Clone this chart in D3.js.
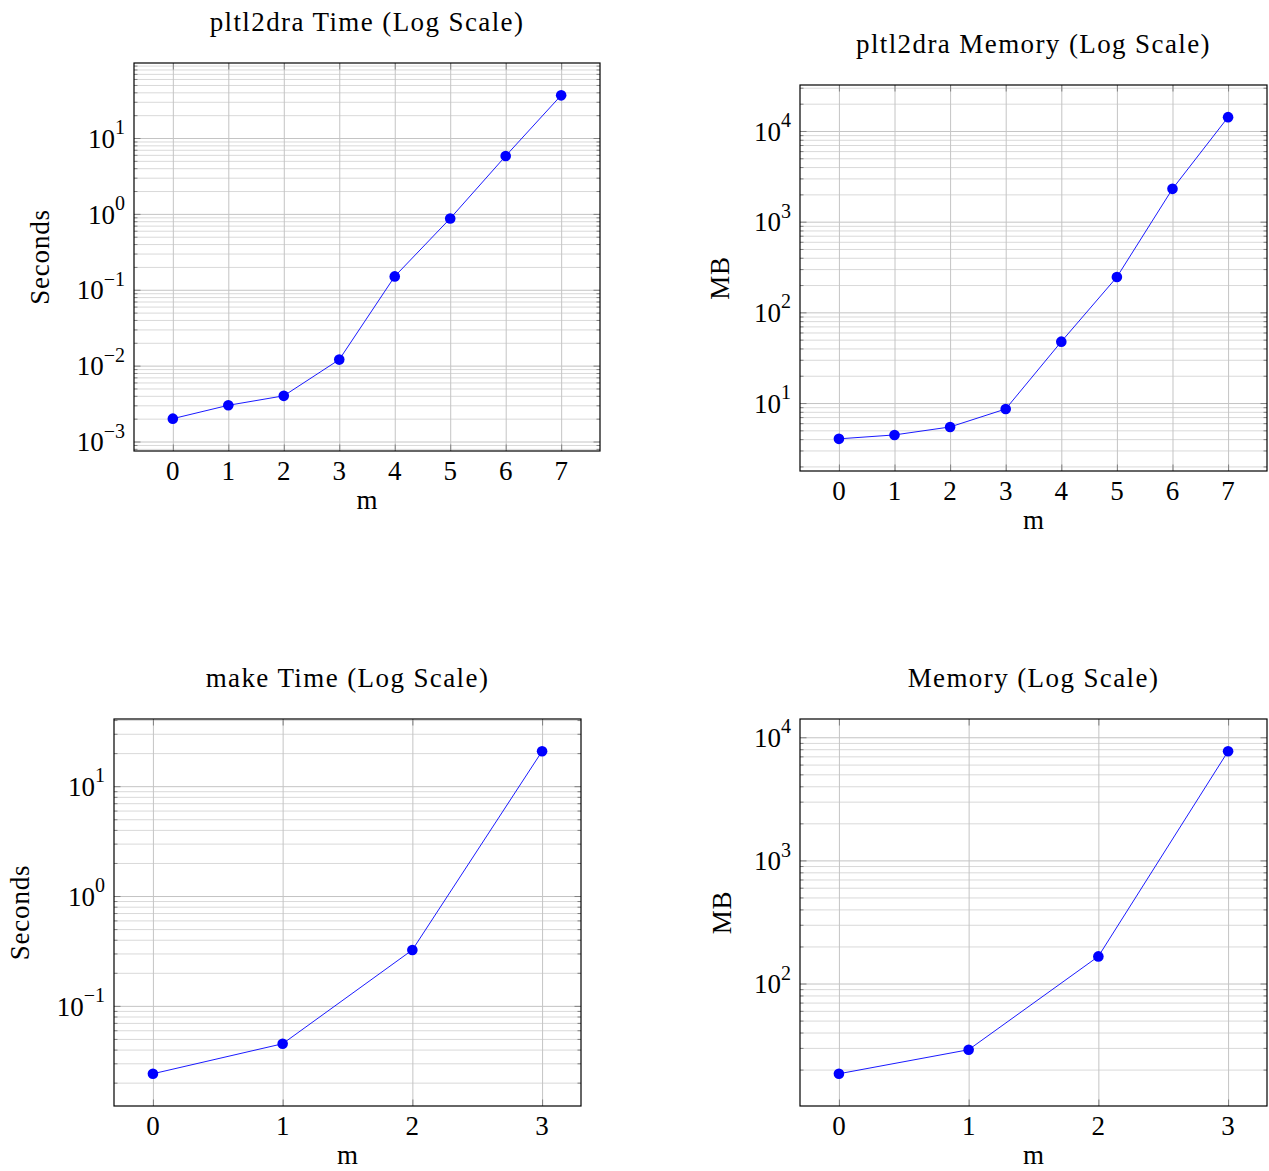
<!DOCTYPE html>
<html>
<head>
<meta charset="utf-8">
<script src="https://cdn.jsdelivr.net/npm/d3@7"></script>
<style>
  body { margin: 0; background: #fff; }
  text { font-family: "Liberation Serif", "DejaVu Serif", serif; fill: #000; }
</style>
</head>
<body>
<div id="chart"></div>
<script>
const W = 1269, H = 1171,
  fontSize = 27,
  titleSize = 27,
  supSize = 20,
  lineColor = "#0000ff",
  majorGrid = "#c4c4c4",
  minorGrid = "#d9d9d9",
  tickColor = "#808080"

// values
const mSteps8 = [0, 1, 2, 3, 4, 5, 6, 7]
const mSteps4 = [0, 1, 2, 3]
const pltlTime = [0.002, 0.003, 0.004, 0.012, 0.15, 0.87, 5.8, 36.5]
const pltlMemory = [4.03, 4.45, 5.45, 8.6, 47.5, 245, 2300, 14200]
const makeTime = [0.0241, 0.0452, 0.323, 20.8]
const makeMemory = [18.5, 29, 166, 7700]

const titles = ["pltl2dra Time (Log Scale)", "pltl2dra Memory (Log Scale)", "make Time (Log Scale)", "Memory (Log Scale)"]
const yLabels = ["Seconds", "MB", "Seconds", "MB"]
const xLabel = "m"

var svg = d3.select("#chart").append("svg")
  .attr("width", W)
  .attr("height", H)

var panels = [
  { x: mSteps8, y: pltlTime, box: { left: 134, top: 63, width: 466, height: 388 }, yLabelX: 40 },
  { x: mSteps8, y: pltlMemory, box: { left: 800, top: 85, width: 467, height: 386 }, yLabelX: 720 },
  { x: mSteps4, y: makeTime, box: { left: 114, top: 719, width: 467, height: 387 }, yLabelX: 20 },
  { x: mSteps4, y: makeMemory, box: { left: 800, top: 719, width: 467, height: 387 }, yLabelX: 722 }
]

function drawPanel(p, idx) {
  var b = p.box
  // pgfplots-style 10% enlargement of the limits
  var xr = d3.max(p.x) - d3.min(p.x)
  var x = d3.scaleLinear()
    .domain([d3.min(p.x) - 0.1 * xr, d3.max(p.x) + 0.1 * xr])
    .range([0, b.width])
  var lmin = Math.log10(d3.min(p.y)), lmax = Math.log10(d3.max(p.y)), lr = lmax - lmin
  var y = d3.scaleLog()
    .domain([Math.pow(10, lmin - 0.1 * lr), Math.pow(10, lmax + 0.1 * lr)])
    .range([b.height, 0])

  var g = svg.append("g").attr("transform", "translate(" + b.left + "," + b.top + ")")

  // decade and minor tick values
  var dec = [], minor = []
  for (var e = Math.floor(lmin - 0.1 * lr); e <= Math.ceil(lmax + 0.1 * lr); e++) {
    var v = Math.pow(10, e)
    if (v >= y.domain()[0] && v <= y.domain()[1]) dec.push(v)
    for (var k = 2; k <= 9; k++) {
      var mv = k * v
      if (mv >= y.domain()[0] && mv <= y.domain()[1]) minor.push(mv)
    }
  }

  // grid
  g.append("g").call(d3.axisLeft(y).tickValues(minor).tickSize(-b.width).tickFormat(""))
    .call(a => a.select(".domain").remove())
    .call(a => a.selectAll("line").attr("stroke", minorGrid).attr("stroke-width", 1))
  g.append("g").call(d3.axisLeft(y).tickValues(dec).tickSize(-b.width).tickFormat(""))
    .call(a => a.select(".domain").remove())
    .call(a => a.selectAll("line").attr("stroke", majorGrid).attr("stroke-width", 1))
  g.append("g").call(d3.axisBottom(x).tickValues(p.x).tickSize(-b.height).tickFormat(""))
    .attr("transform", "translate(0," + b.height + ")")
    .call(a => a.select(".domain").remove())
    .call(a => a.selectAll("line").attr("stroke", majorGrid).attr("stroke-width", 1))

  // inward tick marks on all four sides
  function ticks(axis, tr) {
    g.append("g").attr("transform", tr || null).call(axis)
      .call(a => a.select(".domain").remove())
      .call(a => a.selectAll("line").attr("stroke", tickColor).attr("stroke-width", 1))
  }
  ticks(d3.axisLeft(y).tickValues(minor).tickSize(-3.5).tickFormat(""))
  ticks(d3.axisLeft(y).tickValues(dec).tickSize(-6.5).tickFormat(""))
  ticks(d3.axisRight(y).tickValues(minor).tickSize(-3.5).tickFormat(""), "translate(" + b.width + ",0)")
  ticks(d3.axisRight(y).tickValues(dec).tickSize(-6.5).tickFormat(""), "translate(" + b.width + ",0)")
  ticks(d3.axisBottom(x).tickValues(p.x).tickSize(-6.5).tickFormat(""), "translate(0," + b.height + ")")
  ticks(d3.axisTop(x).tickValues(p.x).tickSize(-6.5).tickFormat(""))

  // frame
  g.append("rect").attr("width", b.width).attr("height", b.height)
    .attr("fill", "none").attr("stroke", "#000").attr("stroke-width", 1.2)

  // y tick labels 10^n
  dec.forEach(function (v) {
    var t = g.append("text")
      .attr("x", -9).attr("y", y(v)).attr("dy", "0.36em")
      .attr("text-anchor", "end")
      .attr("font-size", fontSize)
    t.append("tspan").text("10")
    t.append("tspan").attr("font-size", supSize).attr("dy", "-0.68em")
      .text(String(Math.round(Math.log10(v))).replace("-", "\u2212"))
  })

  // x tick labels
  g.selectAll(".xl").data(p.x).enter().append("text")
    .attr("x", d => x(d)).attr("y", b.height + 29)
    .attr("text-anchor", "middle").attr("font-size", fontSize)
    .text(d => d)

  // line + markers
  var pts = p.x.map((d, i) => [d, p.y[i]])
  g.append("path").datum(pts)
    .attr("d", d3.line().x(d => x(d[0])).y(d => y(d[1])))
    .attr("fill", "none").attr("stroke", lineColor).attr("stroke-width", 0.9)
  g.selectAll("circle").data(pts).enter().append("circle")
    .attr("cx", d => x(d[0])).attr("cy", d => y(d[1])).attr("r", 5.3)
    .attr("fill", lineColor)

  // title and axis labels
  svg.append("text").attr("x", b.left + b.width / 2).attr("y", b.top - 32)
    .attr("text-anchor", "middle").attr("font-size", titleSize)
    .attr("letter-spacing", 1.4).text(titles[idx])
  svg.append("text").attr("x", b.left + b.width / 2).attr("y", b.top + b.height + 58)
    .attr("text-anchor", "middle").attr("font-size", fontSize).text(xLabel)
  svg.append("text")
    .attr("transform", "translate(" + (p.yLabelX + 9) + "," + (b.top + b.height / 2) + ") rotate(-90)")
    .attr("text-anchor", "middle").attr("font-size", fontSize)
    .attr("letter-spacing", 0.8).text(yLabels[idx])
}

panels.forEach(drawPanel)
</script>
</body>
</html>
